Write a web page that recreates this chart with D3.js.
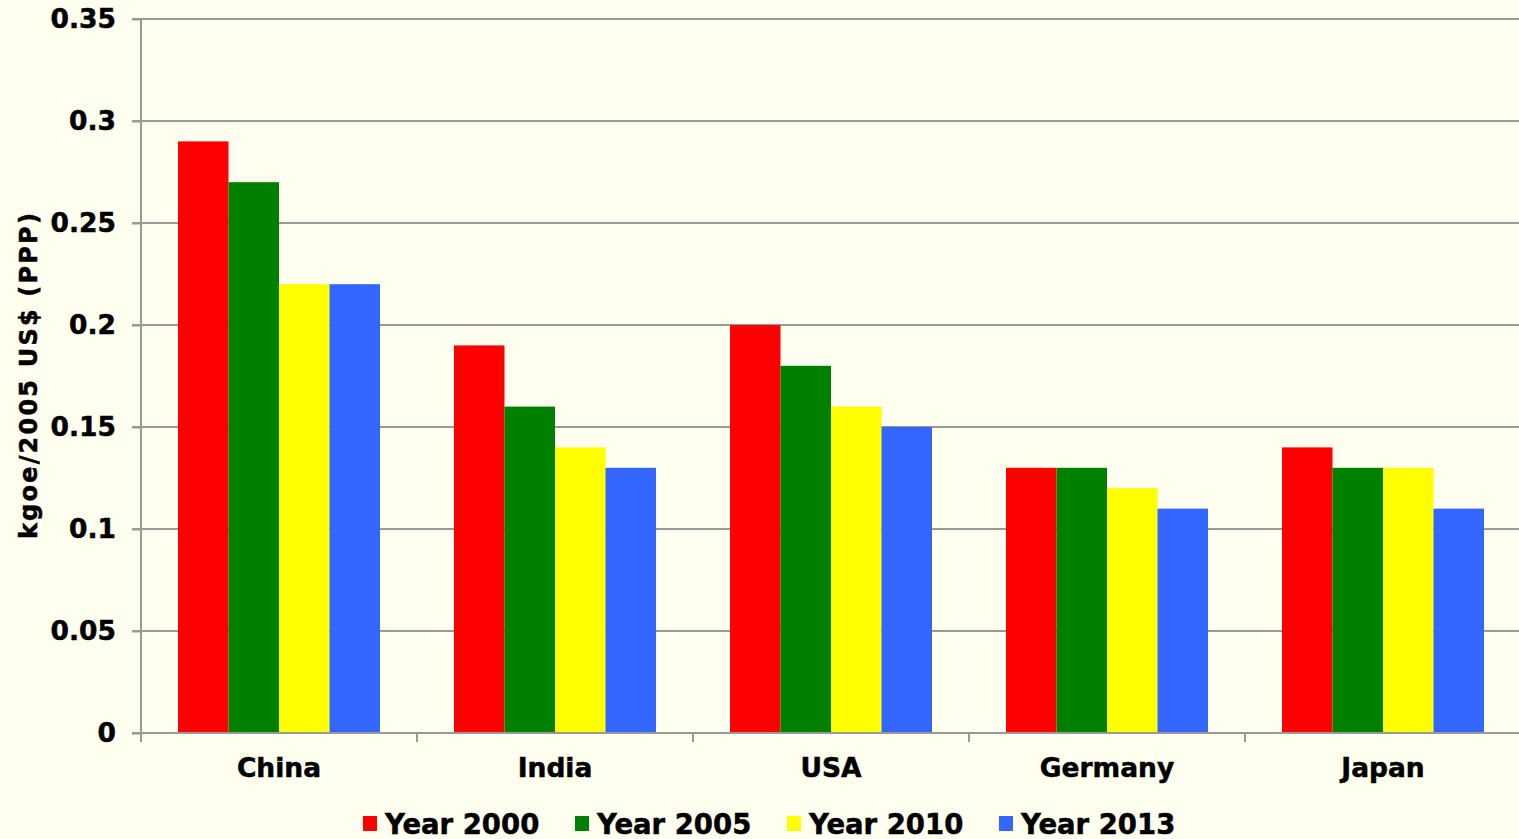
<!DOCTYPE html>
<html>
<head>
<meta charset="utf-8">
<script src="https://cdn.jsdelivr.net/npm/d3@7"></script>
<style>
  html, body { margin: 0; padding: 0; background: #fffff0; overflow: hidden; }
  svg { display: block; font-family: "DejaVu Sans", Verdana, sans-serif; font-weight: bold; }
  text { stroke: #000; stroke-width: 0.5px; }
</style>
</head>
<body>
<svg id="chart" width="1519" height="839"></svg>
<script>
const categories = ["China", "India", "USA", "Germany", "Japan"];
const seriesNames = ["Year 2000", "Year 2005", "Year 2010", "Year 2013"];
const seriesColors = ["#ff0000", "#008000", "#ffff00", "#3366ff"];
const year2000 = [0.29, 0.19, 0.20, 0.13, 0.14];
const year2005 = [0.27, 0.16, 0.18, 0.13, 0.13];
const year2010 = [0.22, 0.14, 0.16, 0.12, 0.13];
const year2013 = [0.22, 0.13, 0.15, 0.11, 0.11];
const yTicks = [0, 0.05, 0.1, 0.15, 0.2, 0.25, 0.3, 0.35];
const yTickLabels = ["0", "0.05", "0.1", "0.15", "0.2", "0.25", "0.3", "0.35"];
const yTitle = "kgoe/2005 US$ (PPP)";

const seriesValues = [year2000, year2005, year2010, year2013];

const svg = d3.select("#chart");
const pLeft = 141, pRight = 1521, pTop = 19, pBottom = 733;

const x = d3.scaleBand().domain(categories).range([pLeft, pRight]).paddingInner(0).paddingOuter(0);
const groupPad = 37;
const x1 = d3.scaleBand().domain(seriesNames).range([groupPad, x.bandwidth() - groupPad]).padding(0);
const y = d3.scaleLinear().domain([0, 0.35]).range([pBottom, pTop]);

// gridlines
svg.append("g").selectAll("line").data(yTicks.slice(1)).join("line")
  .attr("x1", pLeft - 9).attr("x2", pRight)
  .attr("y1", d => y(d)).attr("y2", d => y(d))
  .attr("stroke", "#999999").attr("stroke-width", 2);

// bars
const groups = svg.append("g").selectAll("g").data(categories).join("g")
  .attr("transform", d => `translate(${x(d)},0)`);
groups.selectAll("rect").data((c, i) => seriesNames.map((s, j) => ({ s, j, v: seriesValues[j][i] })))
  .join("rect")
  .attr("x", d => x1(d.s))
  .attr("width", x1.bandwidth())
  .attr("y", d => y(d.v))
  .attr("height", d => pBottom - y(d.v))
  .attr("fill", d => seriesColors[d.j]);

// y axis
const yAxis = d3.axisLeft(y).tickValues(yTicks).tickFormat((d, i) => yTickLabels[i]).tickSize(9).tickPadding(16);
const gy = svg.append("g").attr("transform", `translate(${pLeft},0)`).call(yAxis);
gy.select(".domain").attr("stroke", "#999999").attr("stroke-width", 2).attr("d", `M0,${pTop}V${pBottom}`);
gy.selectAll(".tick line").attr("stroke", "#999999").attr("stroke-width", 2);
gy.selectAll(".tick text").attr("font-size", 26.5).attr("font-weight", "bold").attr("fill", "#000")
  .attr("font-family", "DejaVu Sans, Verdana, sans-serif");

// x axis
const xAxis = d3.axisBottom(x).tickSize(0).tickPadding(25);
const gx = svg.append("g").attr("transform", `translate(0,${pBottom})`).call(xAxis);
gx.select(".domain").attr("stroke", "#999999").attr("stroke-width", 2).attr("d", `M${pLeft - 9},0H${pRight}`);
gx.selectAll(".tick text").attr("font-size", 26.5).attr("font-weight", "bold").attr("fill", "#000")
  .attr("font-family", "DejaVu Sans, Verdana, sans-serif");
// category separator ticks
svg.append("g").selectAll("line").data(categories).join("line")
  .attr("x1", d => x(d)).attr("x2", d => x(d))
  .attr("y1", pBottom).attr("y2", pBottom + 9)
  .attr("stroke", "#999999").attr("stroke-width", 2);

// y title
svg.append("text")
  .attr("transform", `translate(37,${(210 + 540) / 2}) rotate(-90)`)
  .attr("text-anchor", "middle")
  .attr("font-size", 24)
  .attr("letter-spacing", 2.2)
  .attr("fill", "#000")
  .text(yTitle);

// legend
const legend = svg.append("g").selectAll("g").data(seriesNames).join("g")
  .attr("transform", (d, i) => `translate(${363 + i * 212},0)`);
legend.append("rect").attr("x", 0).attr("y", 816).attr("width", 14).attr("height", 15)
  .attr("fill", (d, i) => seriesColors[i]);
legend.append("text").attr("x", 22).attr("y", 834).attr("font-size", 27.5).attr("fill", "#000").text(d => d);
</script>
</body>
</html>
